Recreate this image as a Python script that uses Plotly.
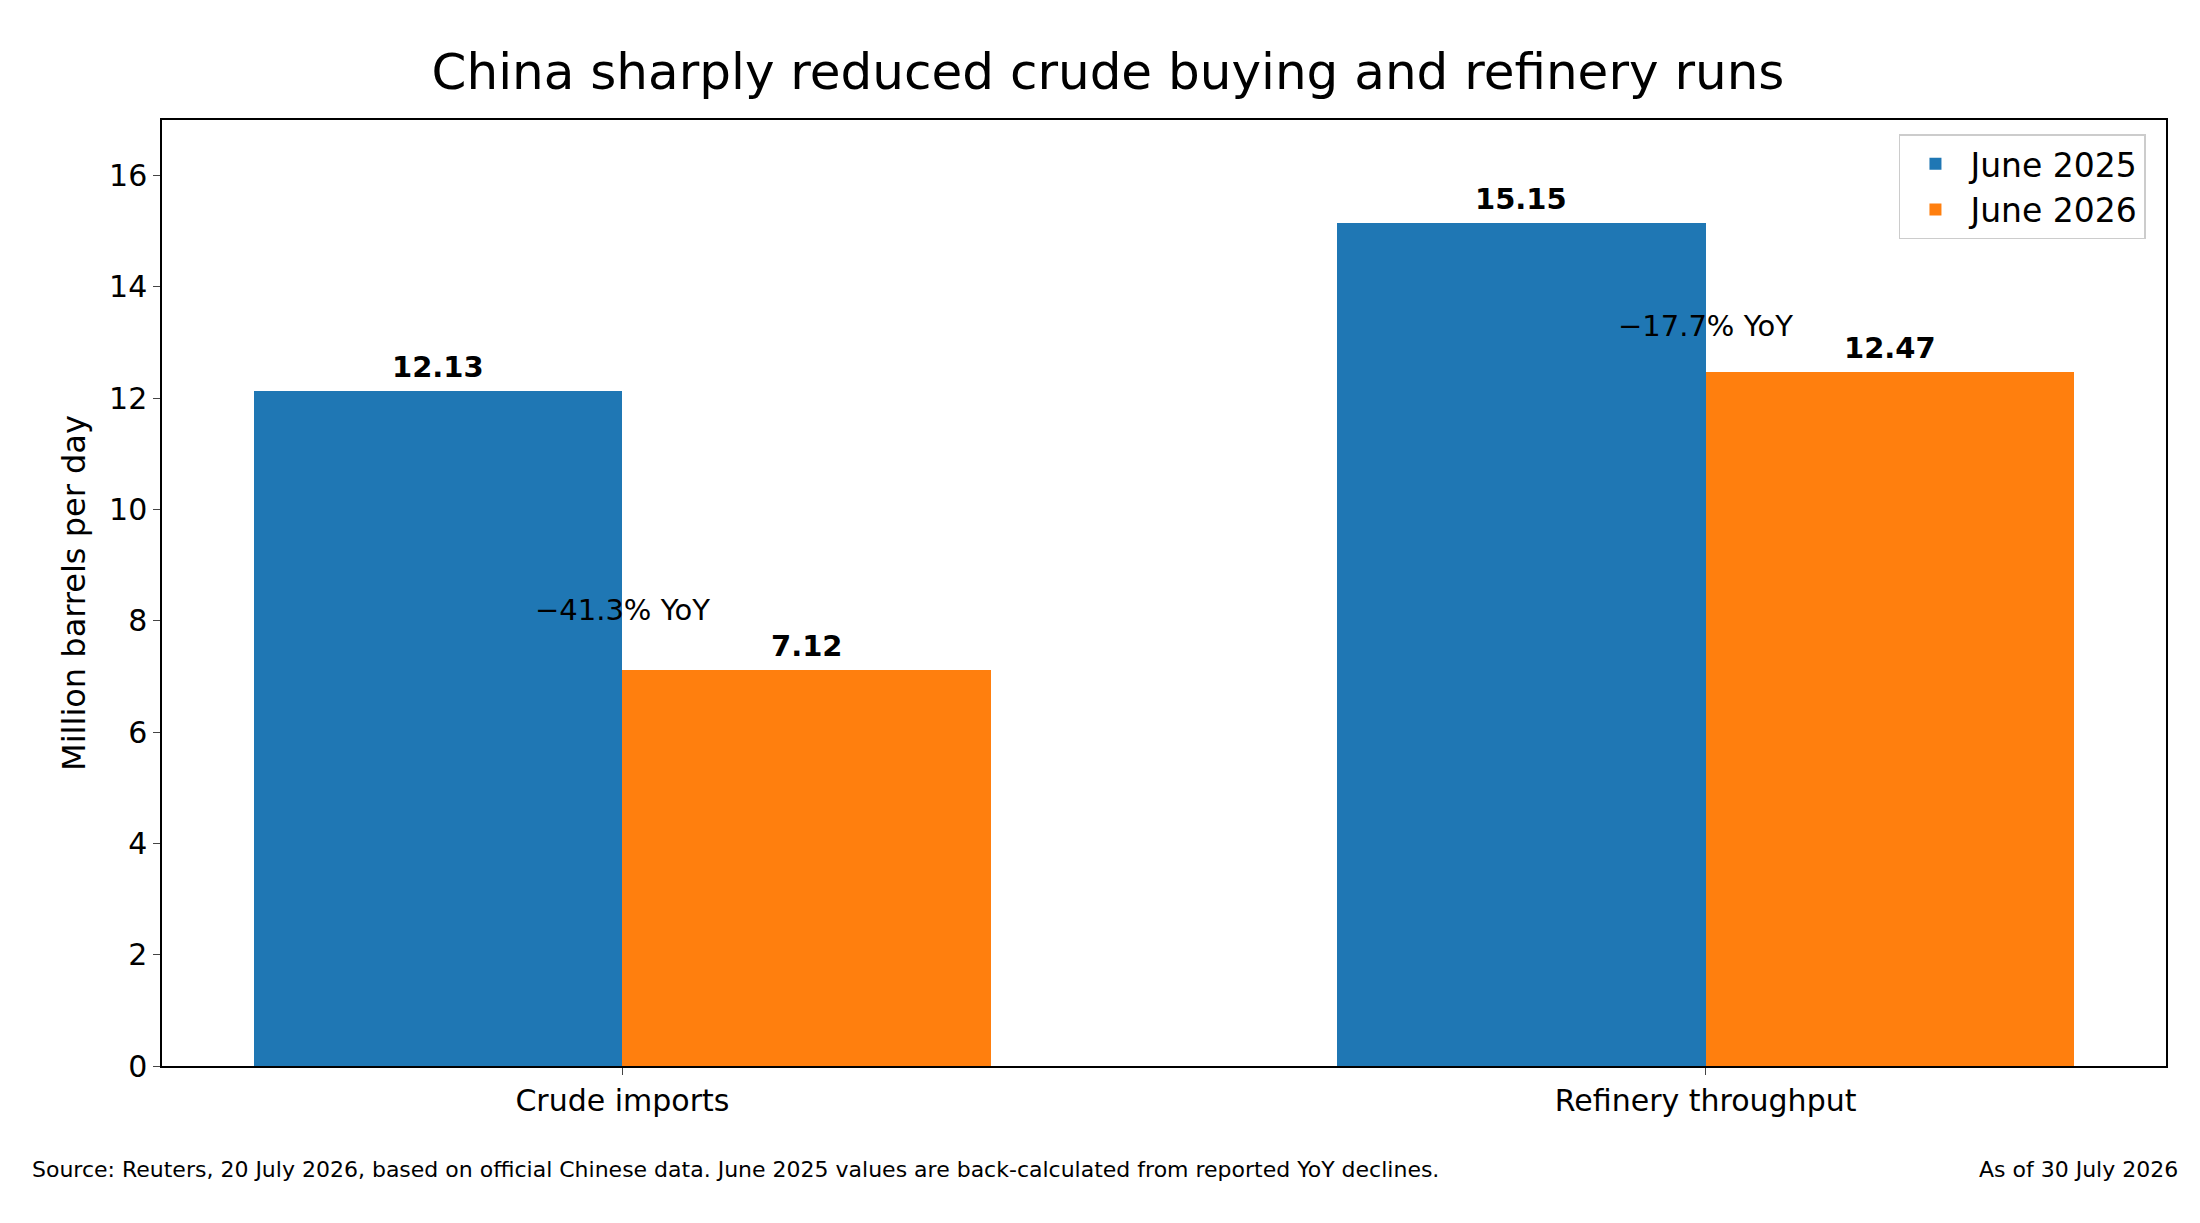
import plotly.graph_objects as go

categories = ["Crude imports", "Refinery throughput"]
june_2025 = [12.13, 15.15]
june_2026 = [7.12, 12.47]
yoy_labels = ["\u221241.3% YoY", "\u221217.7% YoY"]
yoy_y = [8.2, 13.3]

w = 0.34
xs = list(range(len(categories)))

fig = go.Figure()
fig.add_trace(go.Bar(x=[i - w / 2 for i in xs], y=june_2025, width=w, name="June 2025",
                     marker=dict(color="#1f77b4", line=dict(width=0))))
fig.add_trace(go.Bar(x=[i + w / 2 for i in xs], y=june_2026, width=w, name="June 2026",
                     marker=dict(color="#ff7f0e", line=dict(width=0))))

# bold value labels above bars
for i in xs:
    for off, v in ((-w / 2, june_2025[i]), (w / 2, june_2026[i])):
        fig.add_annotation(x=i + off, y=v, text=f"<b>{v:.2f}</b>", showarrow=False,
                           yanchor="bottom", yshift=5, font=dict(size=29, color="black"))
    fig.add_annotation(x=i, y=yoy_y[i], text=yoy_labels[i], showarrow=False,
                       font=dict(size=29, color="black"))

fig.add_annotation(xref="paper", yref="paper", x=-0.066, y=-0.125, xanchor="left",
                   text="Source: Reuters, 20 July 2026, based on official Chinese data. "
                        "June 2025 values are back-calculated from reported YoY declines.",
                   showarrow=False, font=dict(size=22, color="black"))
fig.add_annotation(xref="paper", yref="paper", x=1.007, y=-0.125, xanchor="right",
                   text="As of 30 July 2026", showarrow=False, font=dict(size=22, color="black"))

fig.update_layout(
    width=2200, height=1223,
    font=dict(family="DejaVu Sans", color="black"),
    title=dict(text="China sharply reduced crude buying and refinery runs",
               x=0.5, xanchor="center", y=0.962, font=dict(size=50)),
    plot_bgcolor="white", paper_bgcolor="white",
    margin=dict(l=154, r=42, t=112, b=165),
    showlegend=True,
    legend=dict(x=0.99, y=0.985, xanchor="right", yanchor="top", font=dict(size=33),
                bordercolor="#cccccc", borderwidth=1.5, bgcolor="rgba(255,255,255,0.8)",
                itemwidth=60),
    bargap=0,
)
fig.update_xaxes(range=[-0.425, 1.425], tickvals=xs, ticktext=categories,
                 showline=True, mirror=True, linecolor="black", linewidth=1.5,
                 ticks="outside", ticklen=7, tickfont=dict(size=30), showgrid=False)
fig.update_yaxes(range=[0, 17], dtick=2, showline=True, mirror=True, linecolor="black",
                 linewidth=1.5, ticks="outside", ticklen=7, tickfont=dict(size=30),
                 showgrid=False, zeroline=False,
                 title=dict(text="Million barrels per day", font=dict(size=32), standoff=14))

fig.write_html("out.html")
